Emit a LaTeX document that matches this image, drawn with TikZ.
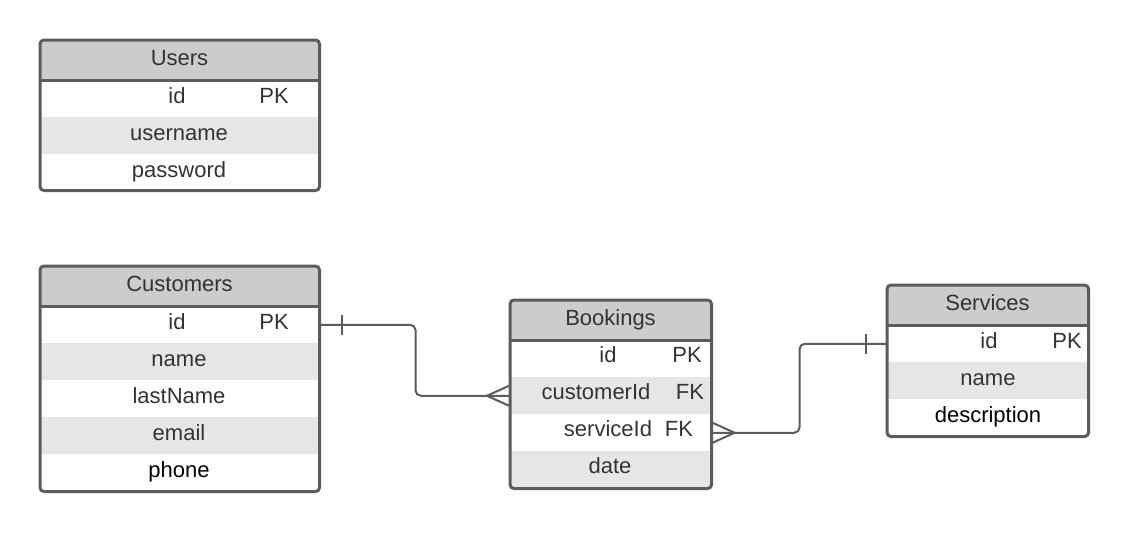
\documentclass[tikz,border=0pt]{standalone}
\usepackage{fontspec}
\setmainfont{Liberation Sans}
\usetikzlibrary{positioning}

\definecolor{hdgray}{HTML}{CCCCCC}
\definecolor{rowgray}{HTML}{E6E6E6}
\definecolor{edgegray}{HTML}{5C5C5C}
\definecolor{txtgray}{HTML}{333333}

\begin{document}
\begin{tikzpicture}[x=0.75pt,y=-0.75pt]
\tikzset{
	hd/.style={rectangle, fill=hdgray, inner sep=0pt, anchor=north west, minimum height=30pt},
	row/.style={rectangle, inner sep=0pt, anchor=north west, minimum height=27.75pt},
	alt/.style={row, fill=rowgray},
	frame/.style={draw=edgegray, line width=2.25pt, rounded corners=3pt},
	sep/.style={draw=edgegray, line width=2.25pt},
	txt/.style={text=txtgray, font=\fontsize{16.5}{20}\selectfont, inner sep=0pt, anchor=base},
	rel/.style={draw=edgegray, line width=1.5pt}
}

\fill[white] (0,0) rectangle (1128,532);
\useasboundingbox (0,0) rectangle (1128,532);

% Users
\node[hd, minimum width=209.25pt] (us_h) at (40,40) {};
\node[row, minimum width=209.25pt] (us_r1) at (40,80) {};
\node[alt, minimum width=209.25pt] (us_r2) at (40,117) {};
\node[row, minimum width=209.25pt, minimum height=27pt] (us_r3) at (40,154) {};
\node[txt] at (179.5,65) {Users};
\node[txt] at (177,103) {id};
\node[txt] at (274,103) {PK};
\node[txt] at (179,140) {username};
\node[txt] at (179,177) {password};
\draw[frame] (us_h.north west) rectangle (us_r3.south east);
\draw[sep] (us_h.south west) -- (us_h.south east);

% Customers
\node[hd, minimum width=209.25pt] (cu_h) at (40,266) {};
\node[row, minimum width=209.25pt] (cu_r1) at (40,306) {};
\node[alt, minimum width=209.25pt] (cu_r2) at (40,343) {};
\node[row, minimum width=209.25pt] (cu_r3) at (40,380) {};
\node[alt, minimum width=209.25pt] (cu_r4) at (40,417) {};
\node[row, minimum width=209.25pt] (cu_r5) at (40,454) {};
\node[txt] at (179.5,291) {Customers};
\node[txt] at (177,329) {id};
\node[txt] at (274,329) {PK};
\node[txt] at (179,366) {name};
\node[txt] at (179,403) {lastName};
\node[txt] at (179,440) {email};
\node[txt, text=black] at (179,477) {phone};
\draw[frame] (cu_h.north west) rectangle (cu_r5.south east);
\draw[sep] (cu_h.south west) -- (cu_h.south east);

% Bookings
\node[hd, minimum width=150.75pt] (bk_h) at (510,300) {};
\node[row, minimum width=150.75pt] (bk_r1) at (510,340) {};
\node[alt, minimum width=150.75pt] (bk_r2) at (510,377) {};
\node[row, minimum width=150.75pt] (bk_r3) at (510,414) {};
\node[alt, minimum width=150.75pt] (bk_r4) at (510,451) {};
\node[txt] at (610.5,325) {Bookings};
\node[txt] at (608,362) {id};
\node[txt] at (687,362) {PK};
\node[txt] at (596,399) {customerId};
\node[txt] at (690,399) {FK};
\node[txt] at (608,436) {serviceId};
\node[txt] at (679,436) {FK};
\node[txt] at (610,473) {date};
\draw[frame] (bk_h.north west) rectangle (bk_r4.south east);
\draw[sep] (bk_h.south west) -- (bk_h.south east);

% Services
\node[hd, minimum width=150.75pt] (sv_h) at (887,285) {};
\node[row, minimum width=150.75pt] (sv_r1) at (887,325) {};
\node[alt, minimum width=150.75pt] (sv_r2) at (887,362) {};
\node[row, minimum width=150.75pt] (sv_r3) at (887,399) {};
\node[txt] at (987.5,310) {Services};
\node[txt] at (989,348) {id};
\node[txt] at (1067,348) {PK};
\node[txt] at (988,385) {name};
\node[txt, text=black] at (988,422) {description};
\draw[frame] (sv_h.north west) rectangle (sv_r3.south east);
\draw[sep] (sv_h.south west) -- (sv_h.south east);

% Customers -- Bookings
\draw[rel, rounded corners=4pt] (cu_r1.east) -- ++(96,0) |- (bk_r2.west);
\draw[rel] ([shift={(22,-10)}]cu_r1.east) -- ++(0,20);
\draw[rel] ([shift={(-23,0)}]bk_r2.west) -- ([shift={(-1,-10)}]bk_r2.west);
\draw[rel] ([shift={(-23,0)}]bk_r2.west) -- ([shift={(-1,10)}]bk_r2.west);

% Bookings -- Services
\draw[rel, rounded corners=4pt] (bk_r3.east) -- ++(88,0) |- (sv_r1.west);
\draw[rel] ([shift={(23,0)}]bk_r3.east) -- ([shift={(1,-10)}]bk_r3.east);
\draw[rel] ([shift={(23,0)}]bk_r3.east) -- ([shift={(1,10)}]bk_r3.east);
\draw[rel] ([shift={(-21,-10)}]sv_r1.west) -- ++(0,20);

\end{tikzpicture}
\end{document}
